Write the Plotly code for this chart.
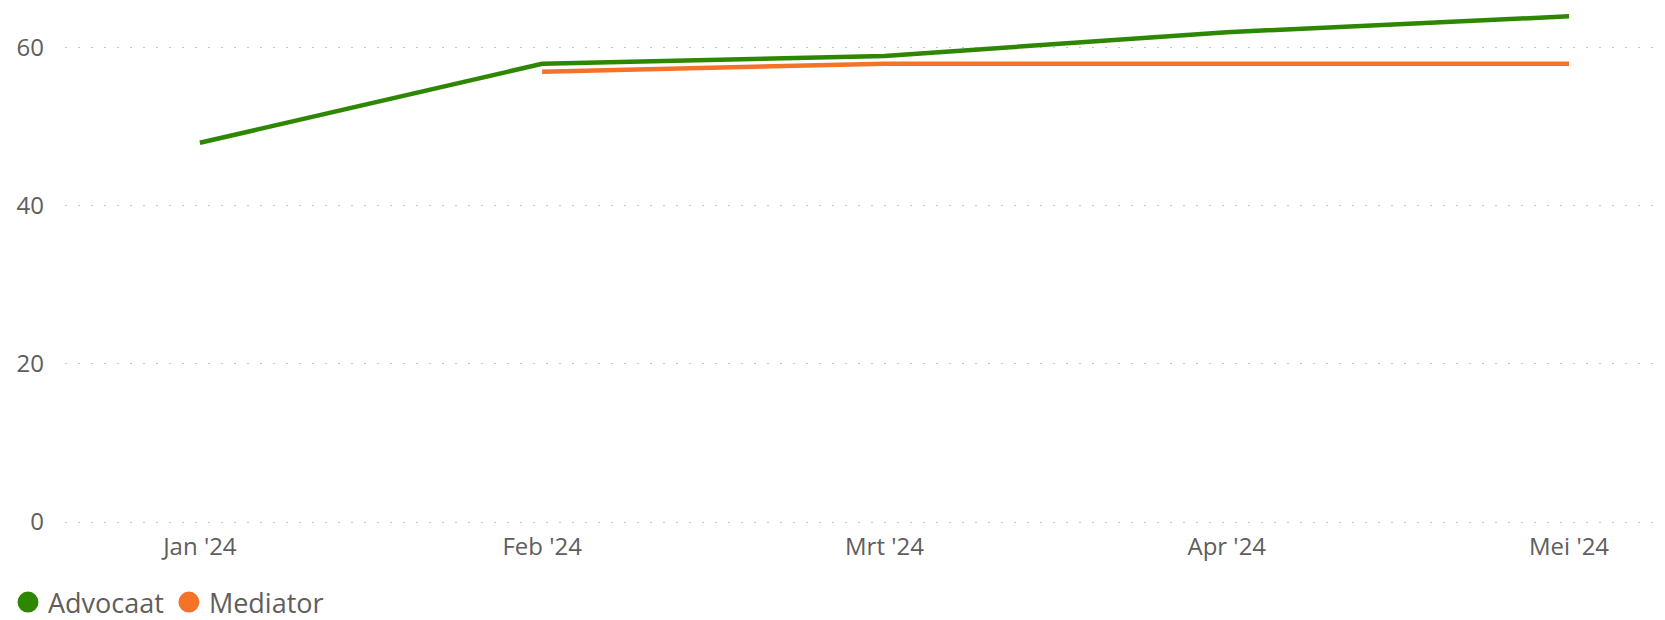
import plotly.graph_objects as go

# Maanden en waarden
months = ["Jan '24", "Feb '24", "Mrt '24", "Apr '24", "Mei '24"]
advocaat = [48, 58, 59, 62, 64]
mediator = [None, 57, 58, 58, 58]

green = "#2e8700"
orange = "#f57328"
font_family = "Segoe UI, Open Sans, Noto Sans, sans-serif"
text_color = "#605e5c"

fig = go.Figure()

fig.add_trace(go.Scatter(
    x=months, y=advocaat, mode="lines", name="Advocaat",
    line=dict(color=green, width=4.5), showlegend=False
))
fig.add_trace(go.Scatter(
    x=months, y=mediator, mode="lines", name="Mediator",
    line=dict(color=orange, width=4.5), showlegend=False
))

# legenda met ronde symbolen
fig.add_trace(go.Scatter(x=[None], y=[None], mode="markers", name="Advocaat",
                         marker=dict(color=green, size=16, line=dict(color=green, width=5))))
fig.add_trace(go.Scatter(x=[None], y=[None], mode="markers", name="Mediator",
                         marker=dict(color=orange, size=16, line=dict(color=orange, width=5))))

# de pagina heeft 8px marge, daarom 1657x612
fig.update_layout(
    width=1657, height=612,
    margin=dict(l=57, r=9, t=0, b=95, autoexpand=False),
    plot_bgcolor="white", paper_bgcolor="white",
    font=dict(family=font_family, color=text_color, size=24),
    legend=dict(
        orientation="h", xref="container", yref="paper",
        x=0, y=-0.150, xanchor="left", yanchor="middle",
        font=dict(size=27, color=text_color),
        itemsizing="trace", tracegroupgap=0,
    ),
)

fig.update_xaxes(
    type="category", categoryorder="array", categoryarray=months,
    range=[-0.394, 4.254], showgrid=False, showline=False, zeroline=False,
    ticks="", ticklabelstandoff=5, tickfont=dict(size=24, color=text_color),
)
fig.update_yaxes(
    range=[-0.38, 65.06], tickvals=[0, 20, 40, 60],
    showgrid=True, gridcolor="#c8c6c4", gridwidth=1, griddash="2px,11px",
    zeroline=False, showline=False, ticks="", ticklabelstandoff=20,
    tickfont=dict(size=24, color=text_color),
)

fig.write_html("out.html")
